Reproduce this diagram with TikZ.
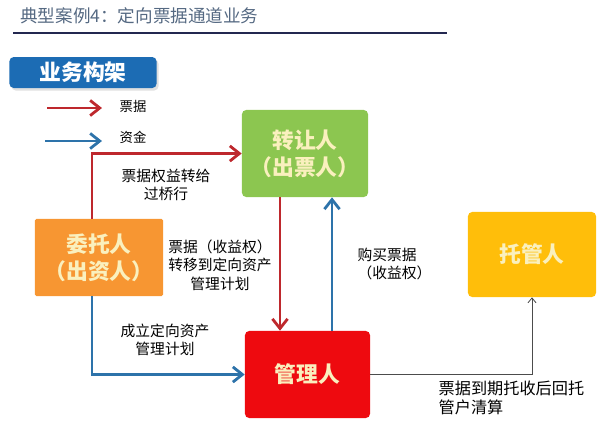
\documentclass[tikz,border=0pt]{standalone}
\usepackage{fontspec}
\usepackage{xcolor}
\usetikzlibrary{arrows.meta,positioning}
\setmainfont{Noto Sans CJK SC}
\definecolor{titlegray}{RGB}{85,105,130}
\definecolor{rulenavy}{RGB}{35,40,80}
\definecolor{tagblue}{RGB}{28,108,180}
\definecolor{flowred}{RGB}{190,40,45}
\definecolor{flowblue}{RGB}{45,115,170}
\definecolor{boxgreen}{RGB}{140,198,80}
\definecolor{boxorange}{RGB}{247,150,50}
\definecolor{boxyellow}{RGB}{255,190,10}
\definecolor{boxred}{RGB}{238,10,15}
\definecolor{boxtext}{RGB}{250,240,190}

\begin{document}
\begin{tikzpicture}[
    x=0.025cm, y=-0.025cm,
    party/.style={rectangle,rounded corners=3pt,text=boxtext,align=center,
      font=\fontsize{15.5}{19}\selectfont\bfseries,inner sep=0pt},
    note/.style={align=center,font=\fontsize{10.5}{13}\selectfont,inner sep=1pt},
    redflow/.style={-{Straight Barb[length=2.4mm,width=3.8mm]},line width=2pt,draw=flowred},
    blueflow/.style={-{Straight Barb[length=2.4mm,width=3.8mm]},line width=2pt,draw=flowblue},
    thinflow/.style={-{Straight Barb[length=1.2mm,width=2mm]},line width=0.6pt,draw=black!70}
  ]
    \useasboundingbox (0,0) rectangle (600,424);

    \node[anchor=west,text=titlegray,font=\fontsize{12.5}{14}\selectfont,inner sep=0pt] (title) at (20,16) {典型案例4：定向票据通道业务};
    \draw[rulenavy,line width=1.3pt] (13,33) -- (447,33);
    \node[rectangle,rounded corners=3pt,fill=black!12,minimum width=3.675cm,minimum height=0.775cm] at (85,75) {};
    \node[rectangle,rounded corners=3pt,fill=tagblue,text=white,minimum width=3.675cm,minimum height=0.775cm,
      font=\fontsize{15.5}{17}\selectfont\bfseries,inner sep=0pt] (tag) at (83,72.5) {业务构架};

    \coordinate (keyredA) at (47,108);
    \coordinate (keyredB) at (102,108);
    \coordinate (keyblueA) at (45,141);
    \coordinate (keyblueB) at (102,141);
    \draw[redflow] (keyredA) -- (keyredB);
    \draw[blueflow] (keyblueA) -- (keyblueB);
    \node[note,anchor=west,font=\fontsize{9.5}{11}\selectfont] (keyred) at (118,106) {票据};
    \node[note,anchor=west,font=\fontsize{9.5}{11}\selectfont] (keyblue) at (118,137) {资金};

    \node[party,fill=boxgreen,minimum width=3.15cm,minimum height=2.175cm] (green) at (305,153.5) {转让人\\（出票人）};
    \node[party,fill=boxorange,rounded corners=1pt,minimum width=3.2cm,minimum height=1.925cm] (orange) at (99,257.5) {委托人\\（出资人）};
    \node[party,fill=boxyellow,minimum width=3.2cm,minimum height=2.125cm] (yellow) at (532,254.5) {托管人};
    \node[party,fill=boxred,minimum width=3.125cm,minimum height=2.175cm] (manager) at (307.5,374.5) {管理人};

    \coordinate (leftbus) at (92,0);
    \coordinate (downbus) at (280,0);
    \coordinate (upbus) at (332,0);

    \draw[redflow] (orange.north -| leftbus) |- (green.west);
    \draw[redflow] (green.south -| downbus) -- (manager.north -| downbus);
    \draw[blueflow] (manager.north -| upbus) -- (green.south -| upbus);
    \draw[blueflow] (orange.south -| leftbus) |- (manager.west);
    \draw[thinflow] (manager.east) -| (yellow.south);

    \node[note] (rights) at (166,185) {票据权益转给\\过桥行};
    \node[note] (transfer) at (220,265) {票据（收益权）\\转移到定向资产\\管理计划};
    \node[note,align=left,anchor=west] (purchase) at (356,264) {购买票据\\（收益权）};
    \node[note] (setup) at (165,340) {成立定向资产\\管理计划};
    \node[note,align=left,anchor=west,font=\fontsize{11.5}{14}\selectfont] (settle) at (437,398) {票据到期托收后回托\\管户清算};
  \end{tikzpicture}
\end{document}
